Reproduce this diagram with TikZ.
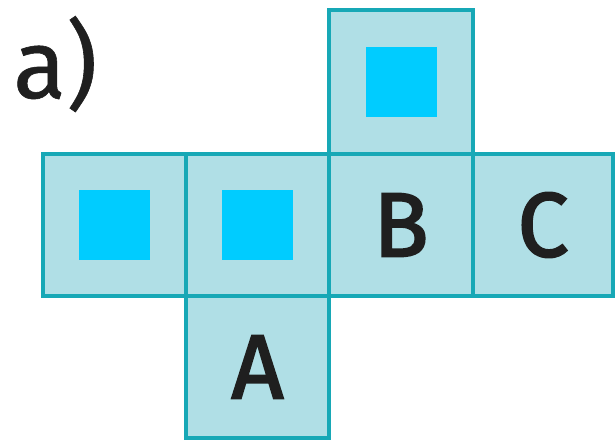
\documentclass[tikz,border=0pt]{standalone}
\usepackage{fontspec}
\setmainfont{Fira Sans}
\newfontfamily\letterfont[FakeBold=2.3]{Fira Sans}
\newfontfamily\labelfont[FakeBold=0.6]{Fira Sans}
\definecolor{edge}{HTML}{17A8B6}
\definecolor{face}{HTML}{B0DFE6}
\definecolor{mark}{HTML}{00CCFF}
\tikzset{
  cell/.style={draw=edge, fill=face, line width=4pt, rectangle, inner sep=0pt},
  dot/.style={fill=mark, rectangle, inner sep=0pt, minimum width=71pt, minimum height=70pt},
  letter/.style={inner sep=0pt, text=black!88, font=\letterfont\fontsize{91}{91}\selectfont}
}
\begin{document}
\begin{tikzpicture}[x=1pt,y=-1pt]
\useasboundingbox (0,0) rectangle (616,442);
\node[cell, minimum width=144pt, minimum height=144pt] (top) at (401,82) {};
\node[cell, minimum width=143pt, minimum height=142pt] (l1) at (114.5,225) {};
\node[cell, minimum width=143pt, minimum height=142pt] (l2) at (257.5,225) {};
\node[cell, minimum width=144pt, minimum height=142pt] (b) at (401,225) {};
\node[cell, minimum width=140pt, minimum height=142pt] (c) at (543,225) {};
\node[cell, minimum width=143pt, minimum height=142pt] (a) at (257.5,367) {};
\node[dot] (dtop) at (top.center) {};
\node[dot] (dl1) at (l1.center) {};
\node[dot] (dl2) at (l2.center) {};
\node[letter] (tb) at (b.center) {B};
\node[letter] (tc) at (c.center) {C};
\node[letter] (ta) at (a.center) {A};
\node[inner sep=0pt, anchor=base west, text=black!88, font=\labelfont\fontsize{97}{97}\selectfont] (lbl) at (13,98) {a)};
\end{tikzpicture}
\end{document}
